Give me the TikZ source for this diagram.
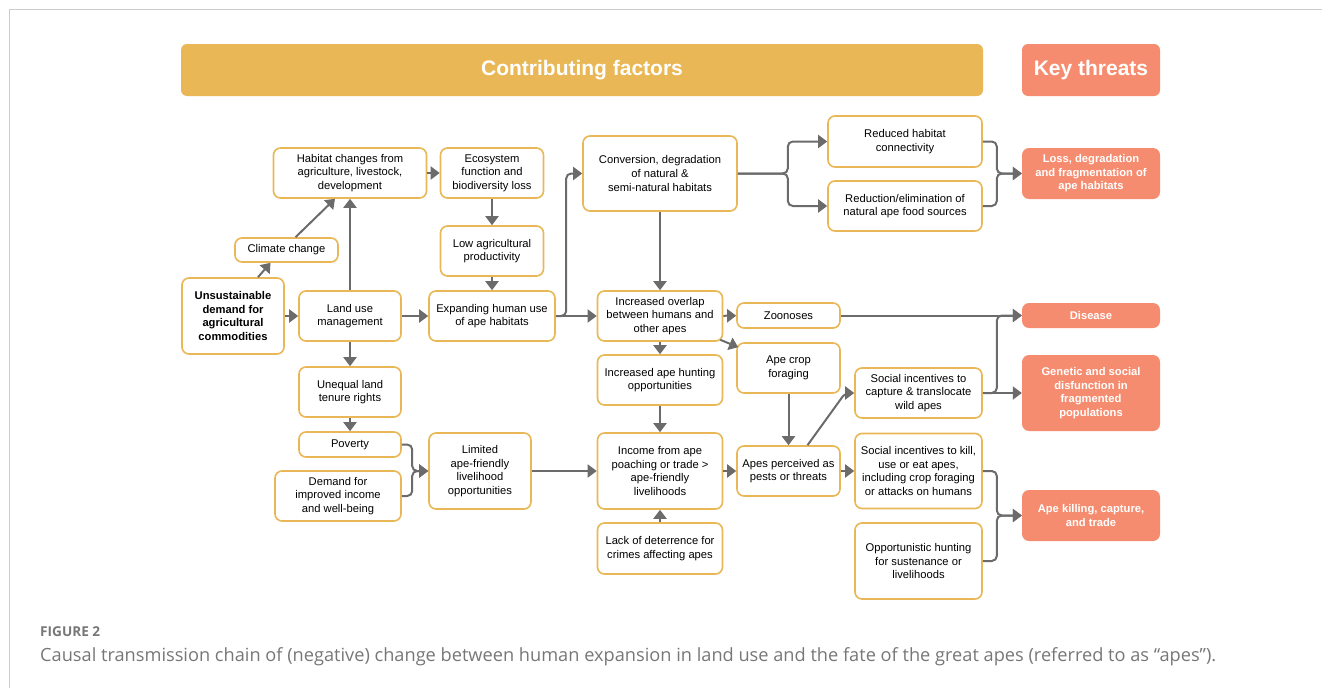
\documentclass[tikz,border=0pt]{standalone}
\usepackage{fontspec}
\setmainfont{Liberation Sans}
\newfontfamily\capfont{Open Sans}
\usetikzlibrary{arrows.meta}

\definecolor{factorgold}{HTML}{E9B755}
\definecolor{threatred}{HTML}{F68C6F}
\definecolor{linkgray}{HTML}{6B6B6B}
\definecolor{framegray}{HTML}{CCCCCC}
\definecolor{capgray}{HTML}{777777}

\tikzset{
  factor/.style={draw=factorgold, line width=1.6pt, rounded corners=7pt, fill=white,
    align=center, inner sep=1pt, font=\fontsize{11.2}{13.6}\selectfont},
  threat/.style={fill=threatred, rounded corners=7pt, text=white,
    align=center, inner sep=1pt, font=\fontsize{11.2}{13.6}\selectfont\bfseries},
  header/.style={rounded corners=6pt, text=white, font=\fontsize{21}{25}\selectfont\bfseries},
  link/.style={draw=linkgray, line width=2pt, -{Triangle[length=9pt,width=13pt]}},
}

\begin{document}
\begin{tikzpicture}[x=1pt, y=-1pt]
  \useasboundingbox (0,0) rectangle (1322,688);

  %frame
  \draw[framegray, line width=1pt] (9,688) -- (9,9) -- (1322,9);

  %headers
  \node[header, fill=factorgold, minimum width=802pt, minimum height=52pt] (hfac) at (582,70) {Contributing factors};
  \node[header, fill=threatred, minimum width=138pt, minimum height=52pt] (hkey) at (1091,70) {Key threats};

  %contributing factors
  \foreach \n/\p/\w/\h/\t in {
      hab/{350,173}/153/50/{Habitat changes from\\agriculture, livestock,\\development},
      eco/{492,173}/103/50/{Ecosystem\\function and\\biodiversity loss},
      clim/{286.5,250}/103/24/{Climate change},
      dem/{233,316}/102/76/{\textbf{Unsustainable}\\\textbf{demand for}\\\textbf{agricultural}\\\textbf{commodities}},
      land/{350,316}/102/50/{Land use\\management},
      lowag/{492,251}/103/50/{Low agricultural\\productivity},
      expand/{492,316}/126/50/{Expanding human use\\of ape habitats},
      conv/{660,173.5}/154/75/{Conversion, degradation\\of natural \&\\semi-natural habitats},
      conn/{905,141.5}/154/51/{Reduced habitat\\connectivity},
      food/{905,206}/154/50/{Reduction/elimination of\\natural ape food sources},
      overlap/{660,316}/125/50/{Increased overlap\\between humans and\\other apes},
      zoo/{788.5,315.5}/103/25/{Zoonoses},
      crop/{788.5,368}/103/50/{Ape crop\\foraging},
      hunt/{660,380}/125/50/{Increased ape hunting\\opportunities},
      tenure/{350,392}/102/50/{Unequal land\\tenure rights},
      pov/{350,444.5}/102/25/{Poverty},
      wellb/{338,496}/126/50/{Demand for\\improved income\\and well-being},
      limit/{480,471}/102/76/{Limited\\ape-friendly\\livelihood\\opportunities},
      income/{660,471}/125/76/{Income from ape\\poaching or trade >\\ape-friendly\\livelihoods},
      deter/{660,548.5}/125/51/{Lack of deterrence for\\crimes affecting apes},
      pests/{788.5,471}/103/50/{Apes perceived as\\pests or threats},
      capt/{918.5,393}/127/50/{Social incentives to\\capture \& translocate\\wild apes},
      kill/{918.5,471}/127/75/{Social incentives to kill,\\use or eat apes,\\including crop foraging\\or attacks on humans},
      opport/{918.5,561}/127/76/{Opportunistic hunting\\for sustenance or\\livelihoods}}
    \node[factor, minimum width=\w pt, minimum height=\h pt] (\n) at (\p) {\t};

  %key threats
  \foreach \n/\p/\h/\t in {
      kloss/{1091,173.5}/51/{Loss, degradation\\and fragmentation of\\ape habitats},
      kdis/{1091,315.5}/25/{Disease},
      kgen/{1091,393}/76/{Genetic and social\\disfunction in\\fragmented\\populations},
      kkill/{1091,515.5}/51/{Ape killing, capture,\\and trade}}
    \node[threat, minimum width=138pt, minimum height=\h pt] (\n) at (\p) {\t};

  % straight links
  \foreach \a/\b in {dem/land, land/expand, expand/overlap, hab/eco, eco/lowag, lowag/expand,
      land/hab, land/tenure, tenure/pov, conv/overlap, overlap/zoo, overlap/hunt, hunt/income,
      deter/income, limit/income, income/pests, pests/kill, crop/pests, zoo/kdis, capt/kgen}
    \draw[link] (\a) -- (\b);

  % diagonal links
  \draw[link] ([xshift=25pt]dem.north) -- ([xshift=-16pt]clim.south);
  \draw[link] ([xshift=9pt]clim.north) -- ([xshift=-15pt]hab.south);
  \draw[link] ([shift={(-3pt,2pt)}]overlap.south east) -- ([shift={(2pt,-5pt)}]crop.north west);
  \draw[link, rounded corners=5pt] ([xshift=19pt]pests.north) -- ([xshift=-9pt]capt.west) -- (capt.west);

  % elbow links
  \draw[link, rounded corners=5pt] (expand.east) -| ([xshift=-16pt]conv.west) -- (conv.west);
  \foreach \b in {conn, food}
    \draw[link, rounded corners=5pt] (conv.east) -- ++(50,0) |- (\b.west);
  \foreach \a in {conn, food}
    \draw[link, rounded corners=5pt] (\a.east) -| ([xshift=-25pt]kloss.west) -- (kloss.west);
  \foreach \a in {pov, wellb}
    \draw[link, rounded corners=5pt] (\a.east) -| ([xshift=-16pt]limit.west) -- (limit.west);
  \foreach \a in {kill, opport}
    \draw[link, rounded corners=5pt] (\a.east) -| ([xshift=-25pt]kkill.west) -- (kkill.west);
  \draw[link, rounded corners=5pt] (capt.east) -| ([xshift=-25pt]kdis.west) -- (kdis.west);

  %caption
  \node[anchor=base west, inner sep=0pt, text=capgray, font=\capfont\fontsize{13.6}{16}\selectfont\bfseries] (fig) at (40,636) {FIGURE 2};
  \node[anchor=base west, inner sep=0pt, text=capgray, font=\capfont\fontsize{18.2}{21}\selectfont] (cap) at (40,661)
    {Causal transmission chain of (negative) change between human expansion in land use and the fate of the great apes (referred to as “apes”).};
\end{tikzpicture}
\end{document}
